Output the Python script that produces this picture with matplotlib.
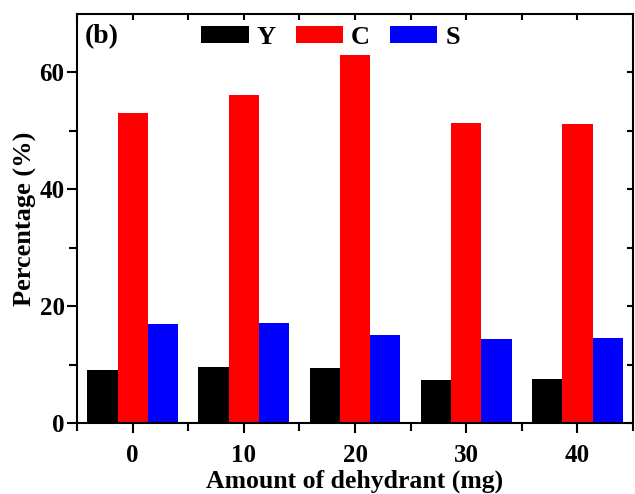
import numpy as np
import matplotlib
matplotlib.use('Agg')
import matplotlib.pyplot as plt

plt.rcParams['font.family'] = ['Liberation Serif', 'DejaVu Serif']
plt.rcParams['font.weight'] = 'bold'

amounts = [0, 10, 20, 30, 40]
y_vals = [9.05, 9.6, 9.35, 7.35, 7.5]
c_vals = [53.1, 56.2, 63.0, 51.3, 51.1]
s_vals = [17.0, 17.1, 15.0, 14.3, 14.5]
labels = ['Y', 'C', 'S']
colors = ['black', 'red', 'blue']

fig = plt.figure(figsize=(6.35, 4.94), dpi=100)
ax = fig.add_axes([0.1213, 0.1437, 0.8756, 0.828])

x = np.array(amounts, dtype=float)
w = 2.72
for i, (vals, lab, col) in enumerate(zip([y_vals, c_vals, s_vals], labels, colors)):
    ax.bar(x + (i - 1) * w, vals, width=w, color=col, label=lab, linewidth=0)

ax.set_xlim(-5, 45)
ax.set_ylim(0, 70)
ax.set_xticks(amounts)
ax.set_xticks([-5, 5, 15, 25, 35, 45], minor=True)
ax.set_yticks([0, 20, 40, 60])
ax.set_yticks([10, 30, 50], minor=True)

for sp in ax.spines.values():
    sp.set_linewidth(1.5)

ax.tick_params(axis='both', which='major', direction='out', length=7, width=1.5,
               labelsize=18)
ax.tick_params(axis='x', which='major', pad=8)
ax.tick_params(axis='y', which='major', pad=2)
ax.tick_params(axis='both', which='minor', direction='out', length=6, width=1.5)
ax.tick_params(axis='x', which='both', top=True)
ax.tick_params(axis='y', which='both', right=True)
# ticks on top/right point inward, and shorter
for t in ax.xaxis.get_major_ticks() + ax.xaxis.get_minor_ticks():
    t.tick2line.set_marker(3)
    t.tick2line.set_markersize(4)
for t in ax.yaxis.get_major_ticks() + ax.yaxis.get_minor_ticks():
    t.tick2line.set_marker(0)
    t.tick2line.set_markersize(4)

for lbl in ax.get_xticklabels() + ax.get_yticklabels():
    lbl.set_fontweight('bold')

ax.set_xlabel('Amount of dehydrant (mg)', fontsize=18.5, fontweight='bold', labelpad=2)
ax.set_ylabel('Percentage (%)', fontsize=19, fontweight='bold', labelpad=2)

ax.text(0.014, 0.975, '(b)', transform=ax.transAxes, fontsize=20,
        fontweight='bold', va='top', ha='left')

ax.legend(loc='upper left', bbox_to_anchor=(0.195, 1.01), ncol=3, frameon=False,
          fontsize=19, handlelength=1.8, handleheight=0.65, handletextpad=0.3,
          columnspacing=0.75, borderaxespad=0.2)

fig.savefig('out.png', dpi=100)
